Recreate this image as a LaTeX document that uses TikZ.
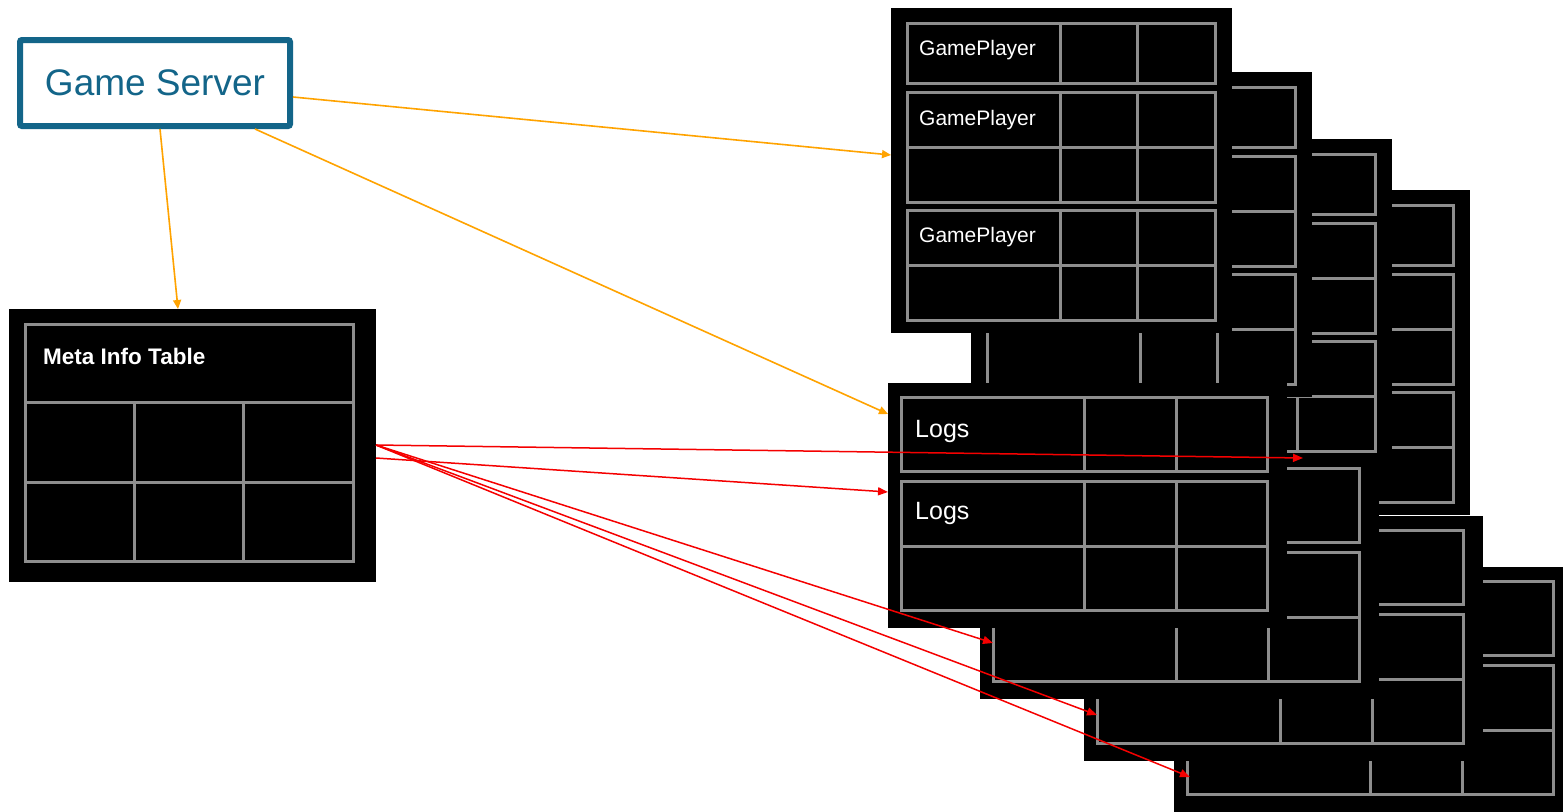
\documentclass[tikz,border=0pt]{standalone}
\usepackage{fontspec}
\setmainfont{Liberation Sans}
\usetikzlibrary{arrows.meta}
\definecolor{gsblue}{RGB}{19,101,137}
\definecolor{gridgray}{RGB}{142,142,142}
\definecolor{arrorange}{RGB}{255,163,0}
\definecolor{arrred}{RGB}{245,0,0}
\tikzset{
  sheetbg/.style={fill=black},
  gridline/.style={draw=gridgray, line width=3pt},
  orangearrow/.style={draw=arrorange, line width=1.6pt, -{Triangle[length=9pt,width=8pt]}},
  redarrow/.style={draw=arrred, line width=1.5pt, -{Triangle[length=10pt,width=8pt]}},
  celltext/.style={text=white, inner sep=0pt, anchor=base west},
}
% GamePlayer sheet, shifted by #1
\newcommand{\mygpsheet}[1]{%
  \begin{scope}[shift={#1}]
    \fill[sheetbg] (891,8) rectangle (1232,333);
    \draw[gridline] (907,23) rectangle (1215,83);
    \draw[gridline] (1060,23) -- (1060,83) (1137,23) -- (1137,83);
    \draw[gridline] (907,92) rectangle (1215,202);
    \draw[gridline] (907,147) -- (1215,147) (1060,92) -- (1060,202) (1137,92) -- (1137,202);
    \draw[gridline] (907,210) rectangle (1215,320);
    \draw[gridline] (907,265) -- (1215,265) (1060,210) -- (1060,320) (1137,210) -- (1137,320);
  \end{scope}}
% Logs sheet, shifted by #1
\newcommand{\mylogsheet}[1]{%
  \begin{scope}[shift={#1}]
    \fill[sheetbg] (888,383) rectangle (1287,628);
    \draw[gridline] (901,397) rectangle (1267,471);
    \draw[gridline] (1084,397) -- (1084,471) (1176,397) -- (1176,471);
    \draw[gridline] (901,481) rectangle (1267,610);
    \draw[gridline] (901,546) -- (1267,546) (1084,481) -- (1084,610) (1176,481) -- (1176,610);
  \end{scope}}
\begin{document}
\begin{tikzpicture}[x=1pt,y=-1pt]
  \useasboundingbox (0,0) rectangle (1563,811);
  \clip (0,0) rectangle (1563,811);
  \fill[white] (0,0) rectangle (1563,811);

  % Game Server
  \node[draw=gsblue, line width=6pt, fill=white, rounded corners=2pt,
        minimum width=270pt, minimum height=86pt, inner sep=0pt,
        text=gsblue, font=\fontsize{37}{40}\selectfont] (gs) at (155,83) {Game Server};

  % Meta Info Table
  \fill[sheetbg] (9,309) rectangle (376,582);
  \draw[gridline] (25,324) rectangle (353,561);
  \draw[gridline] (25,402) -- (353,402) (25,482) -- (353,482);
  \draw[gridline] (134,402) -- (134,561) (243,402) -- (243,561);
  \node[celltext, font=\fontsize{22.5}{24}\selectfont\bfseries] (meta) at (43,364) {Meta Info Table};

  % GamePlayer stack (back to front)
  \mygpsheet{(238,182)}
  \mygpsheet{(160,131)}
  \mygpsheet{(80,64)}
  \mygpsheet{(0,0)}
  \node[celltext, font=\fontsize{21}{23}\selectfont] (gp1) at (919,55) {GamePlayer};
  \node[celltext, font=\fontsize{21}{23}\selectfont] (gp2) at (919,125) {GamePlayer};
  \node[celltext, font=\fontsize{21}{23}\selectfont] (gp3) at (919,242) {GamePlayer};

  % Logs stack (back to front)
  \mylogsheet{(286,184)}
  \mylogsheet{(196,133)}
  \mylogsheet{(92,71)}
  \mylogsheet{(0,0)}
  \node[celltext, font=\fontsize{25}{27}\selectfont] (lg1) at (915,437) {Logs};
  \node[celltext, font=\fontsize{25}{27}\selectfont] (lg2) at (915,519) {Logs};

  % connector ends
  \coordinate (gsE) at (293,97);
  \coordinate (gsS1) at (160,129);
  \coordinate (gsS2) at (255,129);
  \coordinate (metaTop) at (178,309);
  \coordinate (gpIn) at (891,155);
  \coordinate (logsIn) at (888,414);
  \coordinate (metaE1) at (376,445);
  \coordinate (metaE2) at (376,458);
  \coordinate (rt1) at (1303,458);
  \coordinate (rt2) at (888,492);
  \coordinate (rt3) at (993,643);
  \coordinate (rt4) at (1097,715);
  \coordinate (rt5) at (1190,777);

  % orange arrows
  \draw[orangearrow] (gsE) -- (gpIn);
  \draw[orangearrow] (gsS2) -- (logsIn);
  \draw[orangearrow] (gsS1) -- (metaTop);

  % red arrows
  \draw[redarrow] (metaE1) -- (rt1);
  \draw[redarrow] (metaE2) -- (rt2);
  \draw[redarrow] (metaE1) -- (rt3);
  \draw[redarrow] (metaE1) -- (rt4);
  \draw[redarrow] (metaE1) -- (rt5);
\end{tikzpicture}
\end{document}
